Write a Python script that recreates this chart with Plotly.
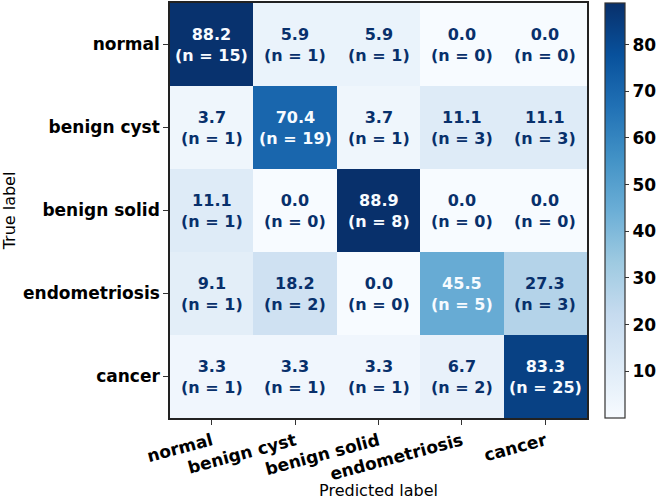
import plotly.graph_objects as go

labels = ["normal", "benign cyst", "benign solid", "endometriosis", "cancer"]
percent = [
    [88.2, 5.9, 5.9, 0.0, 0.0],
    [3.7, 70.4, 3.7, 11.1, 11.1],
    [11.1, 0.0, 88.9, 0.0, 0.0],
    [9.1, 18.2, 0.0, 45.5, 27.3],
    [3.3, 3.3, 3.3, 6.7, 83.3],
]
counts = [
    [15, 1, 1, 0, 0],
    [1, 19, 1, 3, 3],
    [1, 0, 8, 0, 0],
    [1, 2, 0, 5, 3],
    [1, 1, 1, 2, 25],
]
cbar_ticks = [10, 20, 30, 40, 50, 60, 70, 80]

zmin, zmax = 0.0, 88.9
thresh = (zmin + zmax) / 2

fig = go.Figure()
fig.add_trace(go.Heatmap(
    z=percent, x=labels, y=labels,
    colorscale="Blues", zmin=zmin, zmax=zmax,
    xgap=0, ygap=0,
    colorbar=dict(
        x=1.043, xanchor="left", xref="paper", xpad=0, ypad=0,
        y=0.5, yanchor="middle", len=1.0, lenmode="fraction",
        thickness=20, outlinewidth=1.2, outlinecolor="#333",
        tickvals=cbar_ticks, ticks="outside", ticklen=4, tickcolor="#333",
        tickfont=dict(family="DejaVu Sans", size=17, color="black", weight="bold"),
    ),
    hoverinfo="skip",
))

for i, row in enumerate(percent):
    for j, v in enumerate(row):
        color = "#f7fbff" if v > thresh else "#08306b"
        fig.add_annotation(
            x=labels[j], y=labels[i], xref="x", yref="y",
            text=f"{v:.1f}<br>(n = {counts[i][j]})",
            showarrow=False,
            font=dict(family="DejaVu Sans", size=16, color=color, weight="bold"),
        )

fig.update_xaxes(
    title=dict(text="Predicted label", font=dict(family="DejaVu Sans", size=16, color="black"), standoff=10),
    tickangle=-15, ticks="outside", ticklen=5, tickcolor="#333",
    tickfont=dict(family="DejaVu Sans", size=17, color="black", weight="bold"),
    showline=True, linecolor="#222", linewidth=1.5, mirror=True,
    showgrid=False, zeroline=False, automargin=False,
)
fig.update_yaxes(
    title=dict(text="True label", font=dict(family="DejaVu Sans", size=16, color="black"), standoff=6),
    autorange="reversed", ticks="outside", ticklen=5, tickcolor="#333",
    tickfont=dict(family="DejaVu Sans", size=17, color="black", weight="bold"),
    showline=True, linecolor="#222", linewidth=1.5, mirror=True,
    showgrid=False, zeroline=False, automargin=False,
)
fig.update_layout(
    width=666, height=500,
    margin=dict(l=170, r=79, t=3, b=82),
    paper_bgcolor="white", plot_bgcolor="white",
)
fig.write_html("out.html")
